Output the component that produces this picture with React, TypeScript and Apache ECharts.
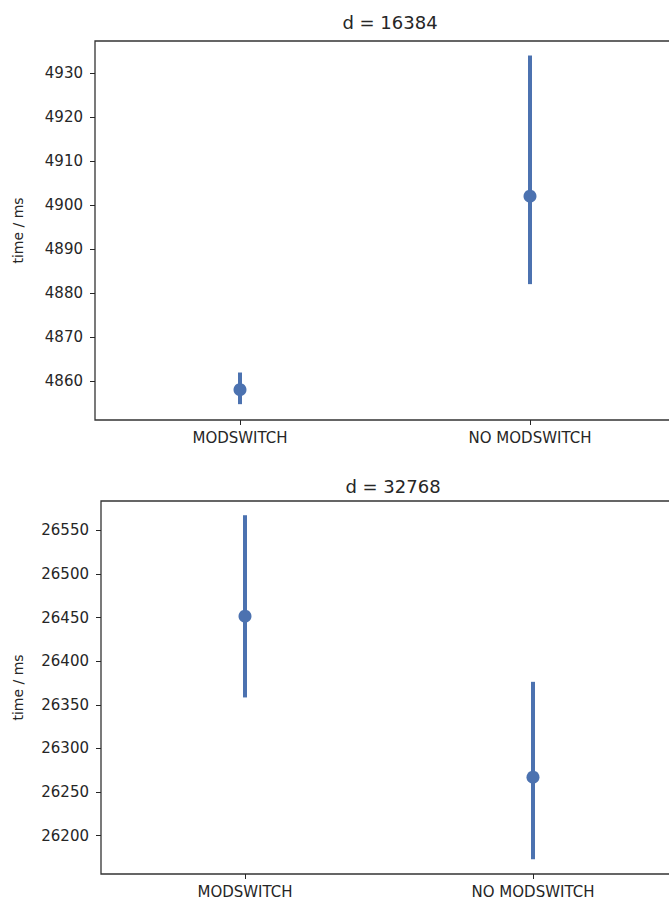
import React, { useEffect, useRef } from "react";
import * as echarts from "echarts";

const categories = ["MODSWITCH", "NO MODSWITCH"];

const titleTop = "d = 16384";
const meanTop = [4858.0, 4902.0];
const lowTop = [4854.7, 4882.0];
const highTop = [4861.9, 4934.0];
const ticksTop = [4860, 4870, 4880, 4890, 4900, 4910, 4920, 4930];

const titleBottom = "d = 32768";
const meanBottom = [26451.5, 26267];
const lowBottom = [26358.4, 26173];
const highBottom = [26567.2, 26376.3];
const ticksBottom = [26200, 26250, 26300, 26350, 26400, 26450, 26500, 26550];

const COLOR = "#4c72b0";
const TEXT = "#262626";
const FONT = "DejaVu Sans";

function errSeries(idx: number, low: number[], high: number[]) {
  return {
    type: "custom",
    xAxisIndex: idx,
    yAxisIndex: idx,
    data: categories.map((c, i) => [i, low[i], high[i]]),
    renderItem: (params: any, api: any) => {
      const p1 = api.coord([api.value(0), api.value(1)]);
      const p2 = api.coord([api.value(0), api.value(2)]);
      return {
        type: "line",
        shape: { x1: p1[0], y1: p1[1], x2: p2[0], y2: p2[1] },
        style: { stroke: COLOR, lineWidth: 4, lineCap: "butt" },
      };
    },
    silent: true,
  };
}

function meanSeries(idx: number, mean: number[]) {
  return {
    type: "scatter",
    xAxisIndex: idx,
    yAxisIndex: idx,
    data: categories.map((c, i) => [i, mean[i]]),
    symbol: "circle",
    symbolSize: 13,
    itemStyle: { color: COLOR, opacity: 1 },
    silent: true,
  };
}

function yAxis(idx: number, min: number, max: number, ticks: number[], nameGap: number) {
  return {
    type: "value",
    gridIndex: idx,
    min,
    max,
    name: "time / ms",
    nameLocation: "middle",
    nameRotate: 90,
    nameGap,
    nameTextStyle: { color: TEXT, fontFamily: FONT, fontSize: 14 },
    axisLine: { show: false },
    axisTick: { show: true, length: 5, customValues: ticks, lineStyle: { color: TEXT, width: 1 } },
    axisLabel: {
      customValues: ticks,
      color: TEXT,
      fontFamily: FONT,
      fontSize: 15,
      margin: 12,
      formatter: (v: number) => String(v),
    },
    splitLine: { show: false },
  };
}

function xAxis(idx: number) {
  return {
    type: "category",
    gridIndex: idx,
    data: categories,
    boundaryGap: true,
    axisLine: { show: false },
    axisTick: { show: true, alignWithLabel: true, length: 5, lineStyle: { color: TEXT, width: 1 } },
    axisLabel: { color: TEXT, fontFamily: FONT, fontSize: 15, margin: 10, interval: 0 },
    splitLine: { show: false },
  };
}

export default function App() {
  const ref = useRef<HTMLDivElement>(null);
  useEffect(() => {
    if (!ref.current) return;
    const chart = echarts.init(ref.current, null, { renderer: "svg" });
    chart.setOption({
      animation: false,
      backgroundColor: "#ffffff",
      title: [
        {
          text: titleTop,
          left: 385,
          top: 8,
          textAlign: "center",
          textStyle: { color: TEXT, fontFamily: FONT, fontSize: 18, fontWeight: "normal" },
        },
        {
          text: titleBottom,
          left: 388,
          top: 472,
          textAlign: "center",
          textStyle: { color: TEXT, fontFamily: FONT, fontSize: 18, fontWeight: "normal" },
        },
      ],
      grid: [
        { left: 95, top: 41, width: 580, height: 379, show: true, borderColor: "#333", borderWidth: 1.3, backgroundColor: "transparent" },
        { left: 101, top: 501, width: 576, height: 373, show: true, borderColor: "#333", borderWidth: 1.3, backgroundColor: "transparent" },
      ],
      xAxis: [xAxis(0), xAxis(1)],
      yAxis: [
        yAxis(0, 4851.1, 4937.3, ticksTop, 70),
        yAxis(1, 26156.1, 26583.5, ticksBottom, 76),
      ],
      series: [
        errSeries(0, lowTop, highTop),
        meanSeries(0, meanTop),
        errSeries(1, lowBottom, highBottom),
        meanSeries(1, meanBottom),
      ],
    });
    return () => chart.dispose();
  }, []);
  return (
    <div
      ref={ref}
      style={{ position: "fixed", left: 0, top: 0, width: 690, height: 903, background: "#fff" }}
    />
  );
}
